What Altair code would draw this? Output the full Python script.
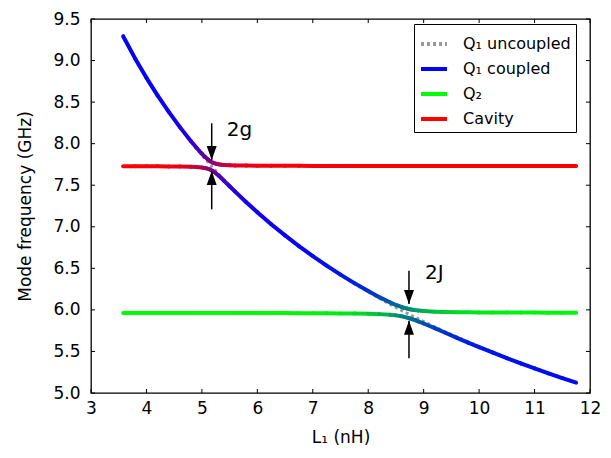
import math
import altair as alt
import pandas as pd

# ---------------- data ----------------
L_nH = [3.58, 3.8, 4.0, 4.2, 4.4, 4.6, 4.8, 4.9, 5.0, 5.05,
        5.1, 5.15, 5.2, 5.25, 5.3, 5.35, 5.4, 5.5, 5.6, 5.8,
        6.0, 6.25, 6.5, 6.75, 7.0, 7.25, 7.5, 7.75, 8.0, 8.2,
        8.4, 8.5, 8.6, 8.65, 8.7, 8.75, 8.8, 8.85, 8.9, 9.0,
        9.2, 9.4, 9.6, 9.8, 10.0, 10.25, 10.5, 10.75, 11.0, 11.25,
        11.5, 11.75]

q1_uncoupled = [9.291, 9.018, 8.790, 8.578, 8.381, 8.197, 8.024, 7.942, 7.862, 7.823,
                7.785, 7.747, 7.709, 7.673, 7.636, 7.601, 7.565, 7.496, 7.429, 7.300,
                7.177, 7.032, 6.896, 6.767, 6.645, 6.529, 6.419, 6.315, 6.216, 6.139,
                6.066, 6.030, 5.995, 5.977, 5.960, 5.943, 5.926, 5.910, 5.893, 5.860,
                5.796, 5.734, 5.674, 5.616, 5.559, 5.491, 5.425, 5.362, 5.301, 5.241,
                5.184, 5.129]

mode_upper = [9.293, 9.020, 8.792, 8.581, 8.385, 8.202, 8.032, 7.953, 7.879, 7.845,
              7.815, 7.789, 7.771, 7.759, 7.752, 7.747, 7.744, 7.740, 7.738, 7.736,
              7.734, 7.734, 7.733, 7.733, 7.732, 7.732, 7.732, 7.732, 7.732, 7.732,
              7.732, 7.732, 7.732, 7.732, 7.732, 7.732, 7.732, 7.732, 7.732, 7.732,
              7.731, 7.731, 7.731, 7.731, 7.731, 7.731, 7.731, 7.731, 7.731, 7.731,
              7.731, 7.731]

mode_middle = [7.728, 7.728, 7.728, 7.727, 7.726, 7.725, 7.722, 7.719, 7.713, 7.708,
               7.700, 7.688, 7.669, 7.645, 7.616, 7.586, 7.553, 7.488, 7.423, 7.296,
               7.175, 7.031, 6.896, 6.768, 6.647, 6.532, 6.424, 6.322, 6.226, 6.153,
               6.088, 6.059, 6.035, 6.024, 6.016, 6.008, 6.002, 5.997, 5.993, 5.987,
               5.979, 5.975, 5.973, 5.972, 5.970, 5.969, 5.969, 5.968, 5.968, 5.967,
               5.967, 5.967]

mode_lower = [5.964, 5.964, 5.964, 5.964, 5.964, 5.964, 5.964, 5.963, 5.963, 5.963,
              5.963, 5.963, 5.963, 5.963, 5.963, 5.963, 5.963, 5.963, 5.963, 5.963,
              5.962, 5.962, 5.962, 5.961, 5.961, 5.960, 5.958, 5.956, 5.954, 5.949,
              5.941, 5.934, 5.923, 5.916, 5.907, 5.898, 5.887, 5.876, 5.863, 5.836,
              5.780, 5.722, 5.664, 5.607, 5.552, 5.485, 5.419, 5.357, 5.296, 5.237,
              5.180, 5.125]

cavity_bare = 7.73
q2_bare = 5.965

x_ticks = [3, 4, 5, 6, 7, 8, 9, 10, 11, 12]
y_ticks = [5.0, 5.5, 6.0, 6.5, 7.0, 7.5, 8.0, 8.5, 9.0, 9.5]

legend_names = ["Q\u2081 uncoupled", "Q\u2081 coupled", "Q\u2082", "Cavity"]
legend_colors = ["#999999", "#0000ff", "#00ff00", "#ff0000"]

gap_labels = ["2g", "2J"]
gap_L = [5.177, 8.735]
gap_top = [8.245, 6.472]
gap_tip_hi = [7.803, 6.071]
gap_tip_lo = [7.671, 5.870]
gap_bottom = [7.21, 5.417]
label_L = [5.447, 9.024]
label_f = [8.092, 6.372]

# ---------------- helpers ----------------
W, H = 499, 374
FONT = "DejaVu Sans"

Q1_RGB = (0, 0, 255)
CAV_RGB = (255, 0, 0)
Q2_RGB = (0, 255, 0)
G_COLOR = 0.15  # width of the colour blend around each crossing


def frac(d):
    return 0.5 * (1 + d / math.sqrt(d * d + G_COLOR * G_COLOR))


def mix(w, partner):
    return tuple(w * q + (1 - w) * p for q, p in zip(Q1_RGB, partner))


def to_hex(rgb):
    return "#%02x%02x%02x" % tuple(int(round(v)) for v in rgb)


rows = []
for name, branch in [("lower", mode_lower), ("middle", mode_middle), ("upper", mode_upper)]:
    cols = []
    for i, L in enumerate(L_nH):
        a = q1_uncoupled[i]
        dc = (a - cavity_bare) / 2
        dq = (a - q2_bare) / 2
        if name == "upper":
            cols.append(mix(frac(dc), CAV_RGB))
        elif name == "middle" and L < 7.0:
            cols.append(mix(1 - frac(dc), CAV_RGB))
        elif name == "middle":
            cols.append(mix(frac(dq), Q2_RGB))
        else:
            cols.append(mix(1 - frac(dq), Q2_RGB))
    for i in range(len(L_nH) - 1):
        c = tuple((p + q) / 2 for p, q in zip(cols[i], cols[i + 1]))
        rows.append({"x": L_nH[i], "y": branch[i], "x2": L_nH[i + 1],
                     "y2": branch[i + 1], "c": to_hex(c)})
seg_df = pd.DataFrame(rows)

unc_df = pd.DataFrame({"L": L_nH, "f": q1_uncoupled, "series": legend_names[0]})

xscale = alt.Scale(domain=[3, 12], nice=False, zero=False)
yscale = alt.Scale(domain=[5.0, 9.5], nice=False, zero=False)
xaxis = alt.Axis(values=x_ticks, format="d", grid=False, ticks=False, domain=False,
                 labelFlush=False, labelFontSize=17, labelPadding=7, labelColor="black",
                 labelFont=FONT, titleFontSize=17, titleFontWeight="normal",
                 titleColor="black", titleFont=FONT, titlePadding=13)
yaxis = alt.Axis(values=y_ticks, format=".1f", grid=False, ticks=False, domain=False,
                 labelFlush=False, labelFontSize=17, labelPadding=11, labelColor="black",
                 labelFont=FONT, titleFontSize=17, titleFontWeight="normal",
                 titleColor="black", titleFont=FONT, titlePadding=18)
XT = "L\u2081 (nH)"
YT = "Mode frequency (GHz)"


def X(field, **kw):
    return alt.X(field, scale=xscale, axis=xaxis, title=XT, **kw)


def Y(field, **kw):
    return alt.Y(field, scale=yscale, axis=yaxis, title=YT, **kw)


legend = alt.Legend(title=None, orient="none", legendX=323, legendY=5,
                    fillColor="white", strokeColor="black", padding=5, cornerRadius=0,
                    symbolType="stroke", symbolSize=676, symbolStrokeWidth=4,
                    labelFontSize=16, labelFont=FONT, labelColor="black",
                    labelOffset=14, rowPadding=2)

unc = alt.Chart(unc_df).mark_line(strokeWidth=3).encode(
    x=X("L:Q"), y=Y("f:Q"),
    color=alt.Color("series:N", scale=alt.Scale(domain=legend_names, range=legend_colors),
                    legend=legend),
    strokeDash=alt.StrokeDash("series:N",
                              scale=alt.Scale(domain=legend_names,
                                              range=[[3, 3], [1, 0], [1, 0], [1, 0]]),
                              legend=legend),
)

segs = alt.Chart(seg_df).mark_rule(strokeWidth=4, strokeCap="round").encode(
    x=X("x:Q"), y=Y("y:Q"), x2="x2:Q", y2="y2:Q",
    stroke=alt.Stroke("c:N", scale=None),
)

xt_df = pd.DataFrame({"t": x_ticks})
yt_df = pd.DataFrame({"t": y_ticks})
TL = 4
tick_style = dict(color="black", strokeWidth=1)
ticks_b = alt.Chart(xt_df).mark_rule(**tick_style).encode(
    x=X("t:Q"), y=alt.value(H), y2=alt.value(H - TL))
ticks_t = alt.Chart(xt_df).mark_rule(**tick_style).encode(
    x=X("t:Q"), y=alt.value(0), y2=alt.value(TL))
ticks_l = alt.Chart(yt_df).mark_rule(**tick_style).encode(
    y=Y("t:Q"), x=alt.value(0), x2=alt.value(TL))
ticks_r = alt.Chart(yt_df).mark_rule(**tick_style).encode(
    y=Y("t:Q"), x=alt.value(W), x2=alt.value(W - TL))

gap_df = pd.DataFrame({"L": gap_L, "top": gap_top, "hi": gap_tip_hi, "lo": gap_tip_lo,
                       "bot": gap_bottom, "tL": label_L, "tf": label_f, "lab": gap_labels})

shaft_hi = alt.Chart(gap_df).mark_rule(color="black", strokeWidth=1.5).encode(
    x=X("L:Q"), y=Y("top:Q"), y2="hi:Q")
shaft_lo = alt.Chart(gap_df).mark_rule(color="black", strokeWidth=1.5).encode(
    x=X("L:Q"), y=Y("bot:Q"), y2="lo:Q")
head_hi = alt.Chart(gap_df).mark_point(shape="M-1,-2.8L1,-2.8L0,0Z", filled=True, size=100,
                                       color="black", opacity=1).encode(
    x=X("L:Q"), y=Y("hi:Q"))
head_lo = alt.Chart(gap_df).mark_point(shape="M-1,2.8L1,2.8L0,0Z", filled=True, size=100,
                                       color="black", opacity=1).encode(
    x=X("L:Q"), y=Y("lo:Q"))
gap_text = alt.Chart(gap_df).mark_text(fontSize=20, font=FONT, align="left",
                                        baseline="alphabetic", color="black").encode(
    x=X("tL:Q"), y=Y("tf:Q"), text="lab:N")

chart = alt.layer(
    unc, segs, ticks_b, ticks_t, ticks_l, ticks_r,
    shaft_hi, shaft_lo, head_hi, head_lo, gap_text
).properties(
    width=W, height=H,
    padding={"left": 83, "top": 11, "right": 12, "bottom": 54},
    autosize=alt.AutoSizeParams(type="none"),
).configure(font=FONT).configure_view(stroke="black", strokeWidth=1.3)

chart.save("out.html", embed_options={"renderer": "svg", "actions": False})
